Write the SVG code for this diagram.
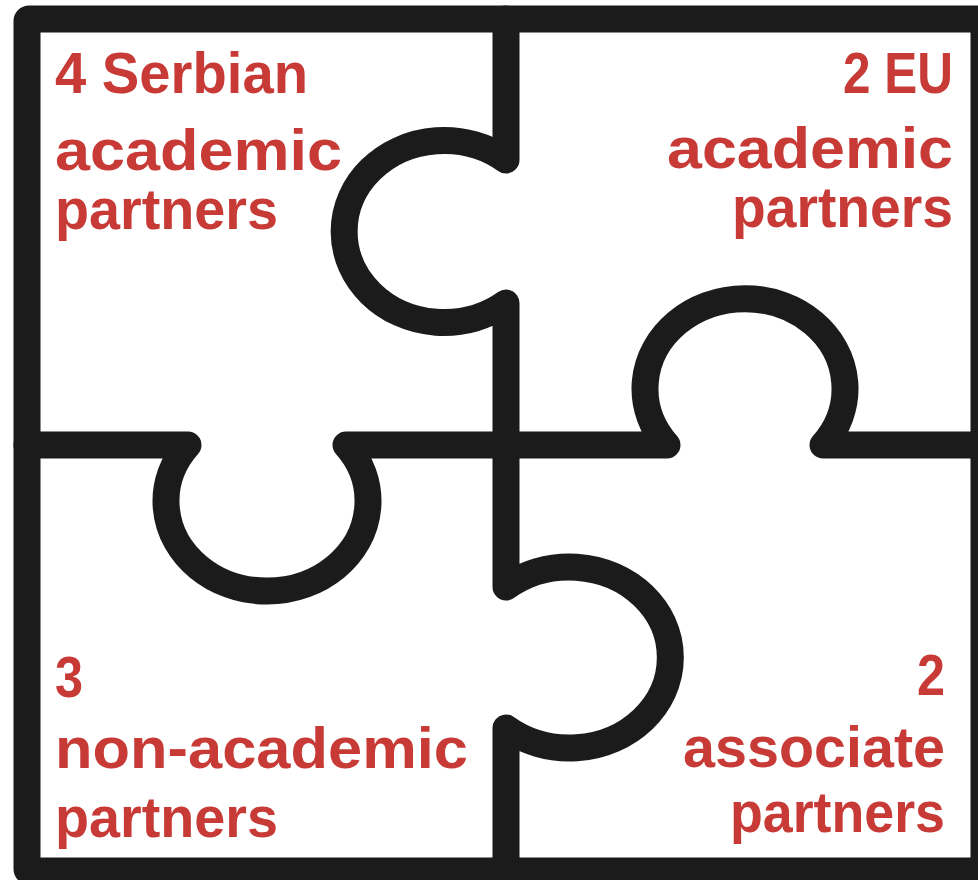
<svg xmlns="http://www.w3.org/2000/svg" width="978" height="880" viewBox="0 0 978 880">
<style>
.ln{fill:none;stroke:#1b1b1b;stroke-width:27;stroke-linejoin:round;stroke-linecap:round}
.t{font-family:"Liberation Sans",Arial,sans-serif;font-weight:bold;fill:#c73a36}
</style>
<rect width="978" height="880" fill="#ffffff"/>
<g id="frame">
<rect x="27" y="19" width="957" height="852" rx="2" ry="2" fill="none" stroke="#1b1b1b" stroke-width="27"/>
</g>
<g id="connectors">
<path class="ln" d="M27,445 H188 A101,90 0 1 0 346,445 H667 A100,90 0 1 1 823,445 H984"/>
<path class="ln" d="M506,19 V160 A100,91 0 1 0 506,303 V587 A101,90.5 0 1 1 506,728 V871"/>
</g>
<g id="serbian">
<text class="t" font-size="58" x="55" y="93" textLength="253" lengthAdjust="spacingAndGlyphs">4 Serbian</text>
<text class="t" font-size="58" x="55" y="170" textLength="287" lengthAdjust="spacingAndGlyphs">academic</text>
<text class="t" font-size="58" x="55" y="229" textLength="223" lengthAdjust="spacingAndGlyphs">partners</text>
</g>
<g id="eu">
<text class="t" font-size="58" text-anchor="end" x="953" y="93" textLength="110" lengthAdjust="spacingAndGlyphs">2 EU</text>
<text class="t" font-size="58" text-anchor="end" x="953" y="168" textLength="286" lengthAdjust="spacingAndGlyphs">academic</text>
<text class="t" font-size="58" text-anchor="end" x="953" y="227" textLength="221" lengthAdjust="spacingAndGlyphs">partners</text>
</g>
<g id="nonacademic">
<text class="t" font-size="58" x="55" y="697" textLength="28" lengthAdjust="spacingAndGlyphs">3</text>
<text class="t" font-size="58" x="55" y="768" textLength="413" lengthAdjust="spacingAndGlyphs">non-academic</text>
<text class="t" font-size="58" x="55" y="837" textLength="223" lengthAdjust="spacingAndGlyphs">partners</text>
</g>
<g id="associate">
<text class="t" font-size="58" text-anchor="end" x="945" y="695" textLength="28" lengthAdjust="spacingAndGlyphs">2</text>
<text class="t" font-size="58" text-anchor="end" x="945" y="767" textLength="262" lengthAdjust="spacingAndGlyphs">associate</text>
<text class="t" font-size="58" text-anchor="end" x="945" y="832" textLength="215" lengthAdjust="spacingAndGlyphs">partners</text>
</g>
</svg>
